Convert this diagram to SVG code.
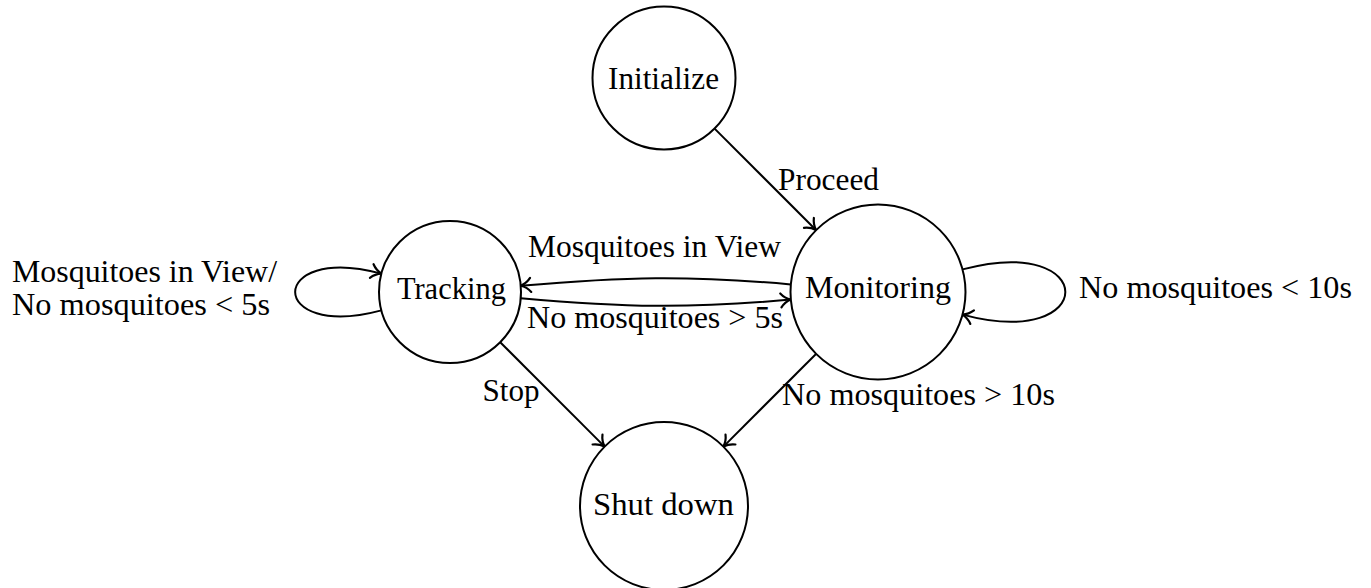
<svg xmlns="http://www.w3.org/2000/svg" width="1371" height="588" viewBox="0 0 1371 588">
<defs>
<marker id="arr" markerUnits="userSpaceOnUse" markerWidth="20" markerHeight="20" viewBox="-12 -10 14 20" refX="0" refY="0" orient="auto" overflow="visible">
<path d="M -10,-7 C -7,-3.2 -2.8,-0.9 0,0 C -2.8,0.9 -7,3.2 -10,7" fill="none" stroke="#000" stroke-width="2.2" stroke-linecap="round"/>
</marker>
</defs>
<style>
.node circle{fill:#fff;stroke:#000;stroke-width:2}
text{font-family:"Liberation Serif","DejaVu Serif",serif;font-size:31.5px;fill:#000}
.n{text-anchor:middle}
.edge{fill:none;stroke:#000;stroke-width:2;marker-end:url(#arr)}
</style>
<rect width="1371" height="588" fill="#fff"/>
<g id="connectors">
<path class="edge" d="M 714.6,128.6 L 816,230"/>
<path class="edge" d="M 500.2,342.2 L 604.6,446.6"/>
<path class="edge" d="M 816,354 L 723.4,446.6"/>
<path class="edge" d="M 790.8,284.4 C 685.5,275.2 626,276.6 520.7,285.8"/>
<path class="edge" d="M 520.7,298.2 C 626,307.4 685.5,308.8 790.8,299.6"/>
<path class="edge" d="M 381.4,310.4 C 266.4,341.2 266.4,242.8 381.4,273.6"/>
<path class="edge" d="M 962.5,269.4 C 1099.6,232.7 1099.6,351.3 962.5,314.6"/>
<g id="edge-labels">
<text x="778" y="190" textLength="101" lengthAdjust="spacingAndGlyphs">Proceed</text>
<text x="482.5" y="401" textLength="57" lengthAdjust="spacingAndGlyphs">Stop</text>
<text x="782" y="405" textLength="273" lengthAdjust="spacingAndGlyphs">No mosquitoes &gt; 10s</text>
<text x="528" y="257" textLength="253" lengthAdjust="spacingAndGlyphs">Mosquitoes in View</text>
<text x="527" y="328" textLength="256" lengthAdjust="spacingAndGlyphs">No mosquitoes &gt; 5s</text>
<text x="12" y="282" textLength="265" lengthAdjust="spacingAndGlyphs">Mosquitoes in View/</text>
<text x="12" y="315" textLength="258" lengthAdjust="spacingAndGlyphs">No mosquitoes &lt; 5s</text>
<text x="1079" y="298" textLength="273" lengthAdjust="spacingAndGlyphs">No mosquitoes &lt; 10s</text>
</g>
</g>
<g id="initialize" class="node">
<circle cx="664" cy="78" r="71.5"/>
<text class="n" x="663.5" y="89" textLength="111" lengthAdjust="spacingAndGlyphs">Initialize</text>
</g>
<g id="tracking" class="node">
<circle cx="450" cy="292" r="71"/>
<text class="n" x="451.4" y="299" textLength="109" lengthAdjust="spacingAndGlyphs">Tracking</text>
</g>
<g id="monitoring" class="node">
<circle cx="878" cy="292" r="87.5"/>
<text class="n" x="878" y="297.5" textLength="146" lengthAdjust="spacingAndGlyphs">Monitoring</text>
</g>
<g id="shutdown" class="node">
<circle cx="664" cy="506" r="84"/>
<text class="n" x="663.5" y="515" textLength="141" lengthAdjust="spacingAndGlyphs">Shut down</text>
</g>
</svg>
